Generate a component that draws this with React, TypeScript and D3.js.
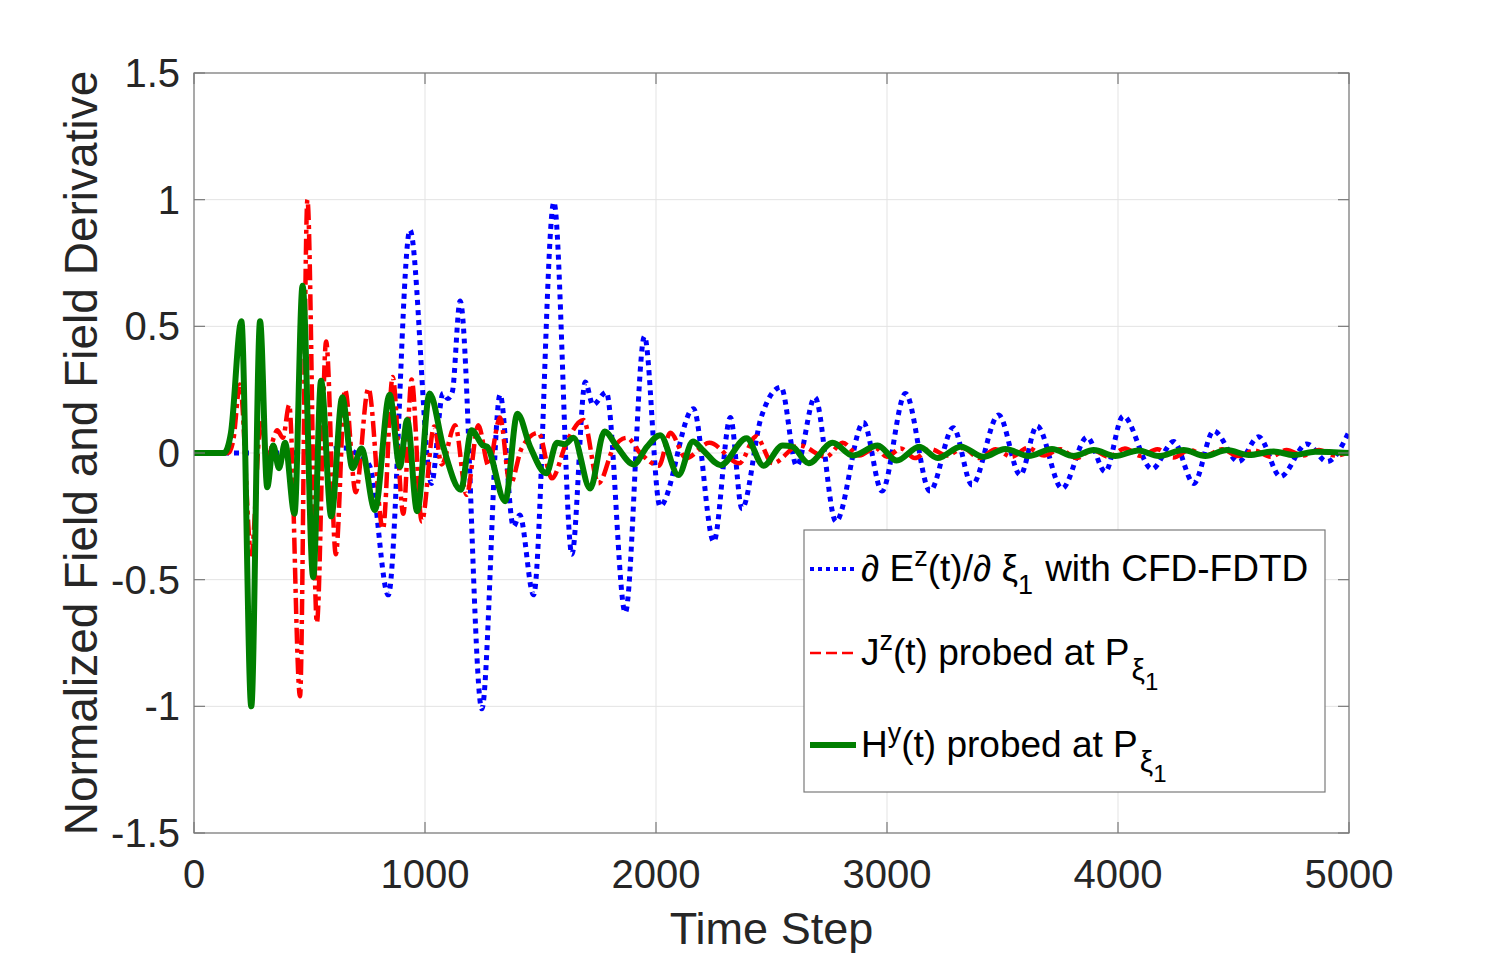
import React from 'react';
import * as d3 from 'd3';

const xTickValues = [0, 1000, 2000, 3000, 4000, 5000];
const xTickLabels = ['0', '1000', '2000', '3000', '4000', '5000'];
const yTickValues = [-1.5, -1, -0.5, 0, 0.5, 1, 1.5];
const yTickLabels = ['-1.5', '-1', '-0.5', '0', '0.5', '1', '1.5'];

// dE^z/dxi_1 with CFD-FDTD (blue dotted)
const dEzSeries: [number, number][] = [
  [0, 0], [150, 0], [400, 0], [550, 0.01], [650, 0.02], [700, 0.0], [760, -0.05],
  [841, -0.56], [935, 0.88], [1028, -0.12], [1078, 0.235], [1098, 0.215], [1118, 0.24],
  [1152, 0.6], [1246, -1.01], [1325, 0.23], [1383, -0.29], [1410, -0.245], [1470, -0.56],
  [1558, 0.99], [1636, -0.4], [1694, 0.28], [1727, 0.19], [1785, 0.24], [1867, -0.63],
  [1950, 0.46], [2017, -0.21], [2162, 0.175], [2250, -0.35], [2322, 0.14], [2372, -0.22],
  [2455, 0.14], [2541, 0.26], [2609, -0.05], [2688, 0.22], [2779, -0.27], [2898, 0.12],
  [2978, -0.15], [3080, 0.235], [3186, -0.15], [3287, 0.1], [3368, -0.126], [3483, 0.15],
  [3577, -0.087], [3649, 0.107], [3758, -0.14], [3866, 0.062], [3945, -0.074], [4022, 0.146],
  [4147, -0.063], [4241, 0.045], [4328, -0.12], [4414, 0.087], [4522, -0.034], [4609, 0.064],
  [4703, -0.093], [4818, 0.036], [4905, -0.034], [5000, 0.084],
];

// J^z(t) probed at P_xi1 (red dash-dot)
const jzSeries: [number, number][] = [
  [0, 0], [150, 0], [170, 0.05], [199, 0.27], [248, -0.4], [290, 0.13], [318, -0.03],
  [345, 0.06], [360, 0.09], [385, 0.06], [412, 0.19], [459, -0.96], [491, 1.0], [532, -0.67],
  [572, 0.44], [614, -0.4], [654, 0.25], [700, -0.155], [755, 0.255], [818, -0.3], [860, 0.3],
  [906, -0.24], [942, 0.29], [986, -0.27], [1040, 0.105], [1072, -0.045], [1130, 0.11],
  [1180, -0.165], [1231, 0.11], [1275, -0.05], [1325, 0.14], [1368, -0.125], [1419, 0.02],
  [1491, 0.08], [1549, -0.1], [1614, 0.045], [1686, 0.13], [1751, -0.12], [1816, 0.02],
  [1874, 0.06], [1932, 0.0], [2012, -0.05], [2062, 0.08], [2130, -0.02], [2231, 0.04],
  [2361, -0.04], [2433, 0.065], [2505, -0.04], [2620, 0.03], [2736, -0.015], [2808, 0.04],
  [2880, -0.01], [2950, 0.02], [3000, -0.015], [3060, 0.018], [3120, -0.02], [3190, 0.015],
  [3260, -0.01], [3330, 0.02], [3400, -0.02], [3470, 0.015], [3540, -0.015], [3610, 0.02],
  [3680, -0.01], [3750, 0.015], [3820, -0.02], [3890, 0.012], [3960, -0.015], [4030, 0.018],
  [4100, -0.012], [4170, 0.015], [4240, -0.018], [4310, 0.012], [4380, -0.01], [4450, 0.015],
  [4520, -0.012], [4590, 0.01], [4660, -0.015], [4730, 0.012], [4800, -0.01], [4870, 0.012],
  [4940, -0.01], [5000, 0.005],
];

// H^y(t) probed at P_xi1 (green solid)
const hySeries: [number, number][] = [
  [0, 0], [130, 0], [160, 0.08], [205, 0.52], [248, -1.0], [286, 0.52], [317, -0.135],
  [343, 0.03], [368, -0.06], [394, 0.04], [435, -0.24], [470, 0.66], [516, -0.49],
  [550, 0.285], [594, -0.25], [642, 0.22], [686, -0.06], [725, 0.018], [783, -0.225],
  [847, 0.23], [891, -0.054], [923, 0.13], [966, -0.23], [1020, 0.235], [1079, 0.025],
  [1155, -0.145], [1202, 0.09], [1250, 0.03], [1268, 0.025], [1347, -0.19], [1400, 0.155],
  [1455, 0.025], [1525, -0.08], [1571, 0.04], [1605, 0.035], [1643, 0.06], [1715, -0.14],
  [1777, 0.085], [1831, 0.025], [1903, -0.045], [1961, 0.025], [2018, 0.07], [2097, -0.087],
  [2160, 0.045], [2202, 0.012], [2280, -0.048], [2392, 0.058], [2465, -0.05], [2548, 0.03],
  [2590, 0.025], [2661, -0.04], [2765, 0.04], [2851, -0.01], [2960, 0.03], [3042, -0.03],
  [3140, 0.025], [3219, -0.02], [3320, 0.025], [3418, -0.015], [3512, 0.016], [3613, -0.012],
  [3714, 0.016], [3808, -0.012], [3895, 0.012], [3988, -0.012], [4089, 0.01], [4176, -0.012],
  [4284, 0.012], [4378, -0.012], [4472, 0.012], [4566, -0.008], [4674, 0.006], [4760, -0.008],
  [4854, 0.005], [5000, 0],
];

const FONT = '"Liberation Sans", Arial, Helvetica, sans-serif';

export default function App() {
  const W = 1492;
  const H = 957;
  const L = 194, R = 1349, T = 73, B = 833;
  const x = d3.scaleLinear().domain([0, 5000]).range([L, R]);
  const y = d3.scaleLinear().domain([-1.5, 1.5]).range([B, T]);
  const line = d3
    .line<[number, number]>()
    .x((d) => x(d[0]))
    .y((d) => y(d[1]))
    .curve(d3.curveMonotoneX);

  const axisColor = '#7a7a7a';
  const gridColor = '#e3e3e3';
  const textColor = '#262626';
  const tickLen = 11;

  const legX = 804, legY = 530, legW = 521, legH = 262;

  return (
    <svg
      width={W}
      height={H}
      style={{ position: 'absolute', left: 0, top: 0, background: '#fff' }}
      fontFamily={FONT}
    >
      <rect x={0} y={0} width={W} height={H} fill="#fff" />
      <defs>
        <clipPath id="plotClip">
          <rect x={L} y={T} width={R - L} height={B - T} />
        </clipPath>
      </defs>
      {/* grid */}
      {xTickValues.map((v) => (
        <line key={'gx' + v} x1={x(v)} x2={x(v)} y1={T} y2={B} stroke={gridColor} strokeWidth={1} />
      ))}
      {yTickValues.map((v) => (
        <line key={'gy' + v} x1={L} x2={R} y1={y(v)} y2={y(v)} stroke={gridColor} strokeWidth={1} />
      ))}
      {/* series */}
      <g clipPath="url(#plotClip)" fill="none">
        <path d={line(dEzSeries) || ''} stroke="#0000ff" strokeWidth={5} strokeDasharray="5 5" />
        <path d={line(jzSeries) || ''} stroke="#ff0000" strokeWidth={4.5} strokeDasharray="16 5 4 5" />
        <path d={line(hySeries) || ''} stroke="#007f00" strokeWidth={6} strokeLinejoin="round" />
      </g>
      {/* box */}
      <rect x={L} y={T} width={R - L} height={B - T} fill="none" stroke={axisColor} strokeWidth={1.2} />
      {/* ticks */}
      {xTickValues.map((v) => (
        <g key={'tx' + v}>
          <line x1={x(v)} x2={x(v)} y1={B} y2={B - tickLen} stroke={axisColor} strokeWidth={1.2} />
          <line x1={x(v)} x2={x(v)} y1={T} y2={T + tickLen} stroke={axisColor} strokeWidth={1.2} />
        </g>
      ))}
      {yTickValues.map((v) => (
        <g key={'ty' + v}>
          <line x1={L} x2={L + tickLen} y1={y(v)} y2={y(v)} stroke={axisColor} strokeWidth={1.2} />
          <line x1={R} x2={R - tickLen} y1={y(v)} y2={y(v)} stroke={axisColor} strokeWidth={1.2} />
        </g>
      ))}
      {/* tick labels */}
      {xTickValues.map((v, i) => (
        <text key={'lx' + v} x={x(v)} y={888} fontSize={40} fill={textColor} textAnchor="middle">
          {xTickLabels[i]}
        </text>
      ))}
      {yTickValues.map((v, i) => (
        <text key={'ly' + v} x={180} y={y(v) + 14} fontSize={40} fill={textColor} textAnchor="end">
          {yTickLabels[i]}
        </text>
      ))}
      {/* axis labels */}
      <text x={(L + R) / 2} y={944} fontSize={45} fill={textColor} textAnchor="middle">
        Time Step
      </text>
      <text
        transform={`translate(97, ${(T + B) / 2}) rotate(-90)`}
        fontSize={46}
        fill={textColor}
        textAnchor="middle"
      >
        Normalized Field and Field Derivative
      </text>
      {/* legend */}
      <rect x={legX} y={legY} width={legW} height={legH} fill="#fff" stroke={axisColor} strokeWidth={1.2} />
      <line x1={810} x2={856} y1={569} y2={569} stroke="#0000ff" strokeWidth={4} strokeDasharray="4 4" />
      <line x1={810} x2={856} y1={653} y2={653} stroke="#ff0000" strokeWidth={2.5} strokeDasharray="11 5" />
      <line x1={810} x2={856} y1={745} y2={745} stroke="#007f00" strokeWidth={6} />
      <text x={861} y={581} fontSize={37} fill="#000">
        <tspan>∂ E</tspan>
        <tspan dy={-15} fontSize={27}>z</tspan>
        <tspan dy={15}>(t)/∂ ξ</tspan>
        <tspan dy={13} fontSize={27}>1</tspan>
        <tspan dy={-13} dx={12}>with CFD-FDTD</tspan>
      </text>
      <text x={861} y={665} fontSize={37} fill="#000">
        <tspan>J</tspan>
        <tspan dy={-15} fontSize={27}>z</tspan>
        <tspan dy={15}>(t) probed at P</tspan>
        <tspan dy={15} dx={2} fontSize={30}>ξ</tspan>
        <tspan dy={10} fontSize={24}>1</tspan>
      </text>
      <text x={861} y={757} fontSize={37} fill="#000">
        <tspan>H</tspan>
        <tspan dy={-15} fontSize={27}>y</tspan>
        <tspan dy={15}>(t) probed at P</tspan>
        <tspan dy={15} dx={2} fontSize={30}>ξ</tspan>
        <tspan dy={10} fontSize={24}>1</tspan>
      </text>
    </svg>
  );
}
